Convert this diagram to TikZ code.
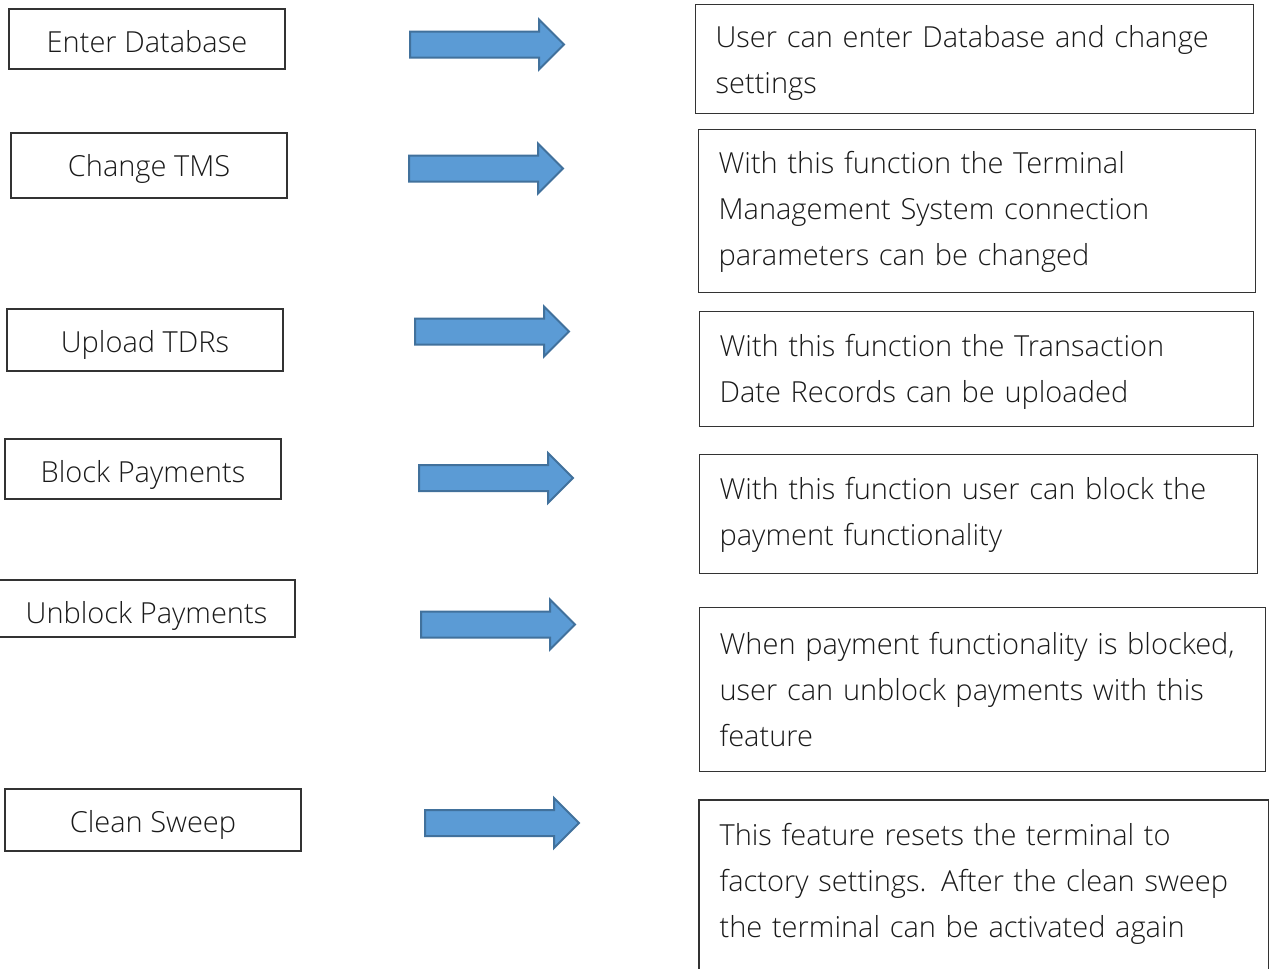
\documentclass[tikz,border=0pt]{standalone}
\usepackage{fontspec}
\IfFontExistsTF{Open Sans Light}{\setmainfont{Open Sans Light}}{\setmainfont{Open Sans}}
\usetikzlibrary{shapes.arrows}
\definecolor{arrowfill}{HTML}{5B9BD5}
\definecolor{arrowline}{HTML}{41719C}
\definecolor{txt}{HTML}{1A1A1A}
\newcommand{\topgap}[1]{\rule{0pt}{#1}}
\begin{document}
\begin{tikzpicture}[x=1pt,y=-1pt,
  every node/.style={font=\fontsize{29}{46}\selectfont, text=txt},
  lbox/.style={draw=black!80, line width=1.2pt, inner sep=0pt, text height=27pt, text depth=0pt},
  rbox/.style={draw=black!80, line width=1.2pt, anchor=north west, inner xsep=20pt, inner ysep=0pt, align=left},
  barrow/.style={single arrow, draw=arrowline, fill=arrowfill, line width=2pt,
    minimum height=154pt, minimum width=48pt, single arrow head extend=12pt,
    inner xsep=0pt, inner ysep=12pt, shape border rotate=0}
]
\useasboundingbox (0,0) rectangle (1269,969);
\fill[white] (0,0) rectangle (1269,969);

% left boxes
\node[lbox, minimum width=276pt, minimum height=60pt] (l1) at (147,39) {Enter Database};
\node[lbox, minimum width=276pt, minimum height=65pt, text height=22pt] (l2) at (149,165.5) {Change TMS};
\node[lbox, minimum width=276pt, minimum height=62pt, text height=25pt] (l3) at (145,340) {Upload TDRs};
\node[lbox, minimum width=276pt, minimum height=60pt] (l4) at (143,469) {Block Payments};
\node[lbox, minimum width=297pt, minimum height=57pt, text height=30pt] (l5) at (146.5,608.5) {Unblock Payments};
\node[lbox, minimum width=296pt, minimum height=62pt, text height=25pt] (l6) at (153,820) {Clean Sweep};

% arrows
\node[barrow] (a1) at (480.5,44.5) {};
\node[barrow] (a2) at (479.5,168.5) {};
\node[barrow] (a3) at (485.5,331.5) {};
\node[barrow] (a4) at (489.5,478) {};
\node[barrow] (a5) at (491.5,624.5) {};
\node[barrow] (a6) at (495.5,823) {};

% right boxes
\node[rbox, minimum width=558pt, minimum height=109pt, text width=518pt] (r1) at (695,4)
  {\topgap{30pt}User can enter Database and change\\settings};
\node[rbox, minimum width=557pt, minimum height=163pt, text width=517pt] (r2) at (698,129)
  {\topgap{24pt}With this function the Terminal\\Management System connection\\parameters can be changed};
\node[rbox, minimum width=554pt, minimum height=115pt, text width=514pt] (r3) at (699,311)
  {\topgap{28pt}With this function the Transaction\\Date Records can be uploaded};
\node[rbox, minimum width=558pt, minimum height=119pt, text width=518pt] (r4) at (699,454)
  {\topgap{24pt}With this function user can block the\\payment functionality};
\node[rbox, minimum width=566pt, minimum height=164pt, text width=526pt] (r5) at (699,607)
  {When payment functionality is blocked,\\user can unblock payments with this\\feature};
\node[rbox, draw=none, minimum width=568pt, minimum height=160pt, text width=528pt] (r6) at (699,800)
  {\topgap{28pt}This feature resets the terminal to\\factory settings. After the clean sweep\\the terminal can be activated again};
\draw[draw=black!80, line width=1.2pt] (r6.north west |- 0,990) -- (r6.north west) -- (r6.north east) -- (r6.north east |- 0,990);
\end{tikzpicture}
\end{document}
